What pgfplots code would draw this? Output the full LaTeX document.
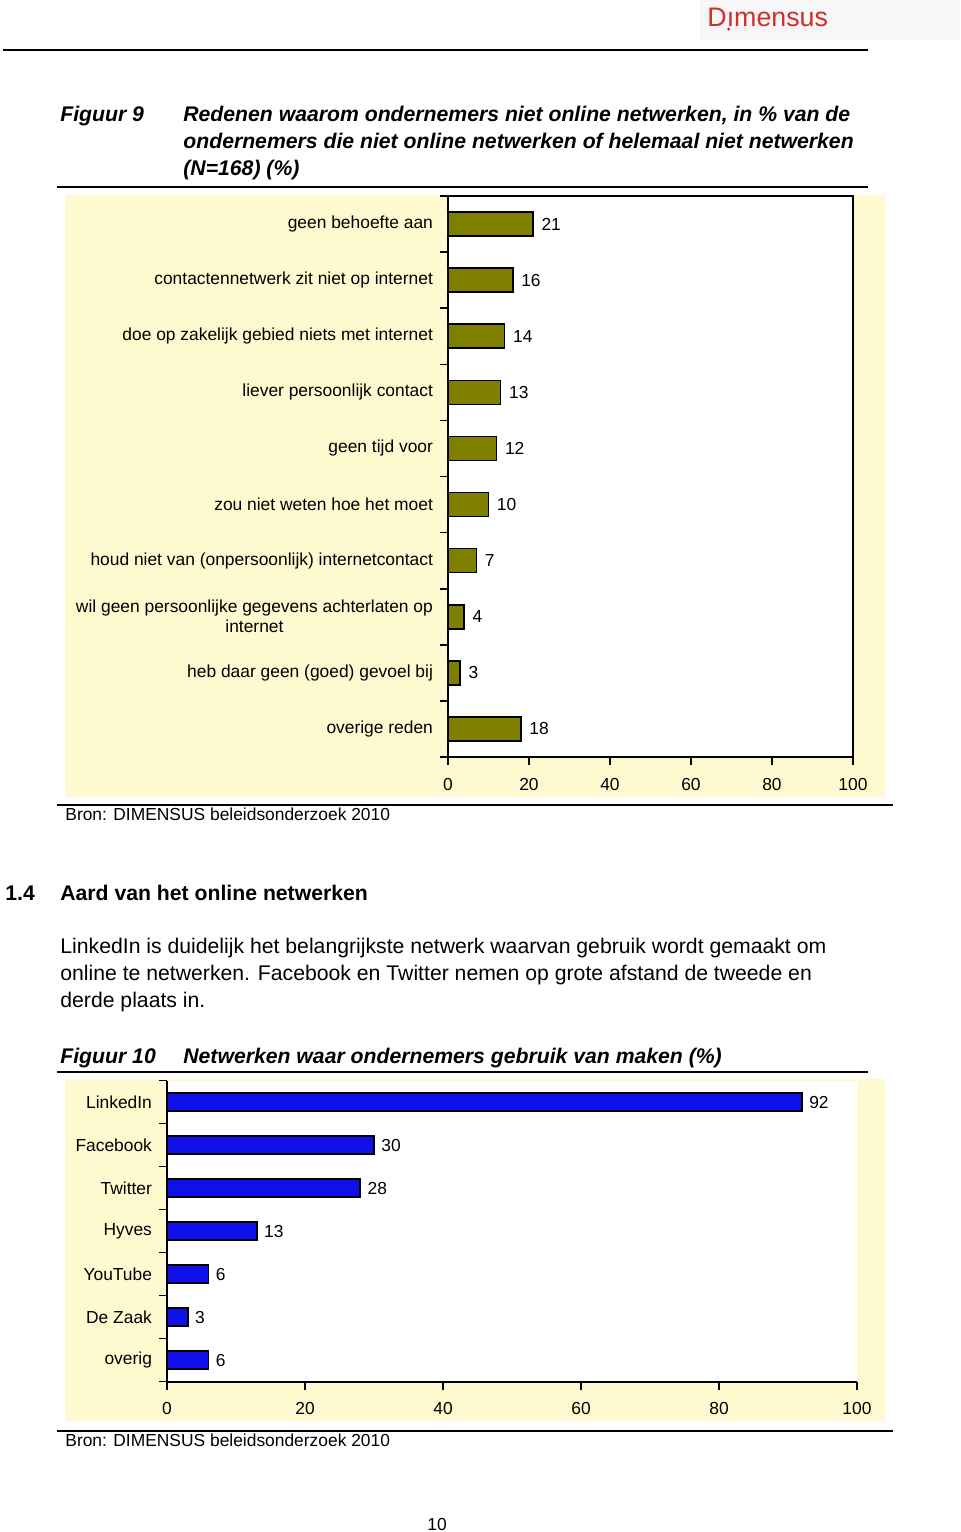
\documentclass[border=0pt]{standalone}
\usepackage{fontspec}
\setmainfont{Liberation Sans}
\usepackage{pgfplots}
\pgfplotsset{compat=1.18}
\definecolor{chartbg}{RGB}{255,249,207}
\definecolor{olivebar}{RGB}{128,128,0}
\definecolor{bluebar}{RGB}{16,16,235}
\definecolor{logored}{RGB}{210,45,40}
\newcommand{\lab}{\fontsize{8.7}{10}\selectfont}
\newcommand{\head}{\fontsize{10.6}{13.5}\selectfont}
\newcommand{\body}{\fontsize{10.6}{13.5}\selectfont}
\begin{document}
\begin{tikzpicture}
\path[use as bounding box, fill=white] (0,0) rectangle (480pt,-766pt);
% header
\fill[black!3] (350pt,0pt) rectangle (480pt,-20pt);
\node[anchor=base west, inner sep=0pt, text=logored] (logo) at (353.5pt,-13pt) {\fontsize{13.4}{14}\selectfont Dımensus};
\fill[logored] (logo.base west) ++(10.8pt,-1.6pt) circle (0.8pt);
\draw[line width=1pt] (1.5pt,-25pt) -- (434pt,-25pt);

% figure 9 caption
\node[anchor=base west, inner sep=0pt] at (30pt,-60.5pt) {\head\bfseries\itshape Figuur 9};
\node[anchor=base west, inner sep=0pt] at (91.5pt,-60.5pt) {\head\bfseries\itshape Redenen waarom ondernemers niet online netwerken, in \% van de};
\node[anchor=base west, inner sep=0pt] at (91.5pt,-74pt) {\head\bfseries\itshape ondernemers die niet online netwerken of helemaal niet netwerken};
\node[anchor=base west, inner sep=0pt] at (91.5pt,-87.5pt) {\head\bfseries\itshape (N=168) (\%)};
\draw[line width=1pt] (28.5pt,-93.5pt) -- (434pt,-93.5pt);

\fill[chartbg] (32.5pt,-97.5pt) rectangle (442.5pt,-398.5pt);
\begin{axis}[
  at={(224pt,-98pt)}, anchor=north west, scale only axis,
  width=202.5pt, height=280.5pt,
  xbar, bar width=12pt,
  xmin=0, xmax=100, ymin=-0.5, ymax=9.5, y dir=reverse,
  axis background/.style={fill=white},
  axis line style={line width=1pt},
  xtick={0,20,...,100},
  ytick={-0.5,0.5,...,9.5},
  y tick label as interval,
  yticklabels={geen behoefte aan, contactennetwerk zit niet op internet, doe op zakelijk gebied niets met internet, liever persoonlijk contact, geen tijd voor, zou niet weten hoe het moet, houd niet van (onpersoonlijk) internetcontact, {wil geen persoonlijke gegevens achterlaten op\\internet}, heb daar geen (goed) gevoel bij, overige reden},
  yticklabel style={font=\lab, align=center},
  xticklabel style={font=\lab, yshift=-3pt},
  /pgf/number format/assume math mode=true,
  tick pos=left, tick align=outside, major tick length=4pt,
  tick style={line width=0.8pt, black},
  nodes near coords,
  every node near coord/.append style={font=\lab, xshift=0.5pt},
]
\addplot[draw=black, line width=0.8pt, fill=olivebar] coordinates {
  (21,0) (16,1) (14,2) (13,3) (12,4) (10,5) (7,6) (4,7) (3,8) (18,9)
};
\end{axis}
\draw[line width=1pt] (28.5pt,-402.5pt) -- (446.5pt,-402.5pt);
\node[anchor=base west, inner sep=0pt] at (32.5pt,-410pt) {\lab Bron: DIMENSUS beleidsonderzoek 2010};

% section 1.4
\node[anchor=base west, inner sep=0pt] at (2.5pt,-450pt) {\head\bfseries 1.4};
\node[anchor=base west, inner sep=0pt] at (30pt,-450pt) {\head\bfseries Aard van het online netwerken};
\node[anchor=base west, inner sep=0pt] at (30pt,-476.5pt) {\body LinkedIn is duidelijk het belangrijkste netwerk waarvan gebruik wordt gemaakt om};
\node[anchor=base west, inner sep=0pt] at (30pt,-490pt) {\body online te netwerken. Facebook en Twitter nemen op grote afstand de tweede en};
\node[anchor=base west, inner sep=0pt] at (30pt,-503.5pt) {\body derde plaats in.};

% figure 10 caption
\node[anchor=base west, inner sep=0pt] at (30pt,-531.5pt) {\head\bfseries\itshape Figuur 10};
\node[anchor=base west, inner sep=0pt] at (91.5pt,-531.5pt) {\head\bfseries\itshape Netwerken waar ondernemers gebruik van maken (\%)};
\draw[line width=1pt] (28.5pt,-536pt) -- (434pt,-536pt);

\fill[chartbg] (32.5pt,-539.5pt) rectangle (442.5pt,-710.5pt);
\begin{axis}[
  at={(83.5pt,-540.25pt)}, anchor=north west, scale only axis,
  width=345pt, height=150.5pt,
  xbar, bar width=9pt,
  xmin=0, xmax=100, ymin=-0.5, ymax=6.5, y dir=reverse,
  axis background/.style={fill=white},
  axis lines*=left,
  axis line style={line width=1pt},
  xtick={0,20,...,100},
  ytick={-0.5,0.5,...,6.5},
  y tick label as interval,
  yticklabels={LinkedIn, Facebook, Twitter, Hyves, YouTube, De Zaak, overig},
  yticklabel style={font=\lab},
  xticklabel style={font=\lab, yshift=-3pt},
  /pgf/number format/assume math mode=true,
  tick align=outside, major tick length=4pt,
  tick style={line width=0.8pt, black},
  nodes near coords,
  every node near coord/.append style={font=\lab},
]
\addplot[draw=black, line width=0.8pt, fill=bluebar] coordinates {
  (92,0) (30,1) (28,2) (13,3) (6,4) (3,5) (6,6)
};
\end{axis}
\draw[line width=1pt] (28.5pt,-715.5pt) -- (446.5pt,-715.5pt);
\node[anchor=base west, inner sep=0pt] at (32.5pt,-723pt) {\lab Bron: DIMENSUS beleidsonderzoek 2010};

\node[anchor=base, inner sep=0pt] at (218.5pt,-765pt) {\lab 10};
\end{tikzpicture}
\end{document}
